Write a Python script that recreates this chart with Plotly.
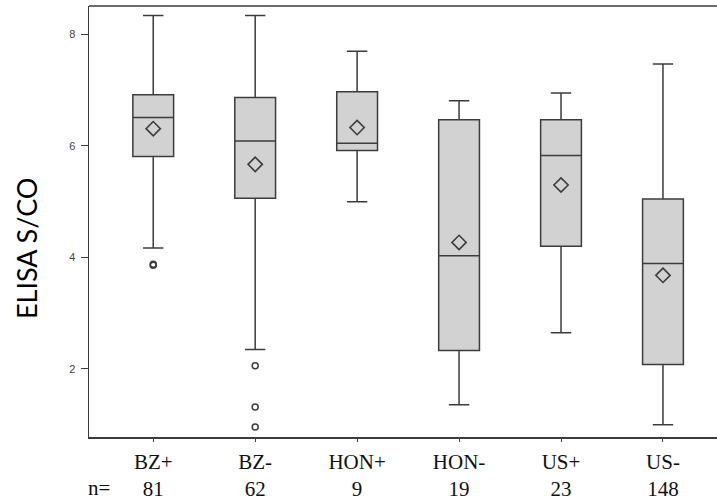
import plotly.graph_objects as go

categories = ["BZ+", "BZ-", "HON+", "HON-", "US+", "US-"]
n_counts = [81, 62, 9, 19, 23, 148]
q1 = [5.81, 5.06, 5.92, 2.33, 4.20, 2.08]
median = [6.51, 6.09, 6.05, 4.03, 5.83, 3.89]
q3 = [6.92, 6.87, 6.97, 6.47, 6.47, 5.05]
lower_whisker = [4.17, 2.35, 5.00, 1.36, 2.65, 1.00]
upper_whisker = [8.34, 8.34, 7.70, 6.81, 6.95, 7.47]
means = [6.31, 5.67, 6.33, 4.27, 5.30, 3.68]
outlier_cat = ["BZ+", "BZ+", "BZ-", "BZ-", "BZ-"]
outlier_val = [3.86, 3.88, 2.06, 1.32, 0.96]
y_ticks = [2, 4, 6, 8]

W, H = 717, 502
ML, MR, MT, MB = 89, 0, 6, 65

line_col = "#3c3c3c"

fig = go.Figure()
fig.add_trace(go.Box(
    x=categories, q1=q1, median=median, q3=q3,
    lowerfence=lower_whisker, upperfence=upper_whisker,
    boxpoints=False, width=0.4, whiskerwidth=0.5,
    fillcolor="#d2d2d2", line=dict(color=line_col, width=1.5),
    showlegend=False, hoverinfo="skip",
))
fig.add_trace(go.Scatter(
    x=categories, y=means, mode="markers",
    marker=dict(symbol="diamond-open", size=11, color=line_col, line=dict(width=1.6)),
    showlegend=False, hoverinfo="skip",
))
fig.add_trace(go.Scatter(
    x=outlier_cat, y=outlier_val, mode="markers",
    marker=dict(symbol="circle-open", size=6, color=line_col, line=dict(width=1.5)),
    showlegend=False, hoverinfo="skip",
))

fig.update_layout(
    width=W, height=H,
    margin=dict(l=ML, r=MR, t=MT, b=MB),
    plot_bgcolor="white", paper_bgcolor="white",
    xaxis=dict(
        type="category", range=[-0.63, 5.53], automargin=False,
        tickvals=categories,
        ticktext=[f"{c}<br>{n}" for c, n in zip(categories, n_counts)],
        showline=True, linecolor=line_col, linewidth=1.5,
        ticks="outside", ticklen=3, tickcolor=line_col,
        ticklabelstandoff=2,
        showgrid=False, zeroline=False,
        tickfont=dict(family="Liberation Serif", size=21, color="#111"),
    ),
    yaxis=dict(
        range=[0.78, 8.51], tickvals=y_ticks, automargin=False,
        showline=True, linecolor=line_col, linewidth=1.5,
        ticks="outside", ticklen=7, tickcolor=line_col,
        ticklabelstandoff=3,
        showgrid=False, zeroline=False,
        tickfont=dict(family="Liberation Sans", size=11, color="#444"),
    ),
    shapes=[
        dict(type="line", xref="paper", yref="paper", x0=0, x1=1, y0=1, y1=1,
             line=dict(color=line_col, width=1.5)),
    ],
    annotations=[
        dict(text="ELISA S/CO", textangle=-90, xref="paper", yref="paper",
             x=(26 - ML) / (W - ML - MR), y=(H - MB - 249) / (H - MT - MB),
             xanchor="center", yanchor="middle", showarrow=False,
             font=dict(family="Lato", size=27, color="#000")),
        dict(text="n=", xref="paper", yref="paper",
             x=(99 - ML) / (W - ML - MR), y=(H - MB - 488) / (H - MT - MB),
             xanchor="center", yanchor="middle", showarrow=False,
             font=dict(family="Liberation Serif", size=21, color="#111")),
    ],
)

fig.write_html(
    "out.html",
    config={"displayModeBar": False, "staticPlot": True},
    post_script="document.body.style.margin='0';document.body.style.overflow='hidden';",
)
